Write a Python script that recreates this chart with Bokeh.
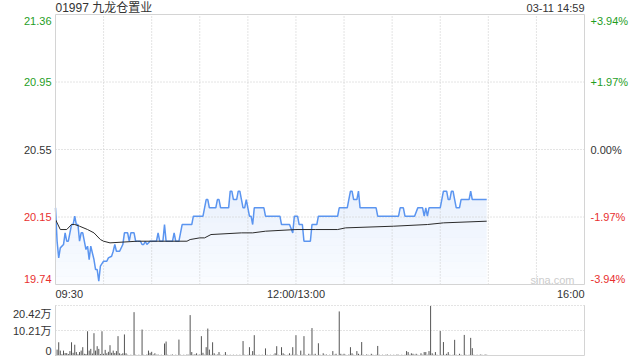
from bokeh.plotting import figure
from bokeh.models import Range1d, Label
from bokeh.embed import file_html
from bokeh.resources import INLINE

# ---------------- data ----------------
title_text = "01997 九龙仓置业"
stamp_text = "03-11 14:59"
pre_close = 20.55
pct_levels = [3.94, 1.97, 0.0, -1.97, -3.94]
price_tick_labels = ["21.36", "20.95", "20.55", "20.15", "19.74"]
pct_tick_labels = ["+3.94%", "+1.97%", "0.00%", "-1.97%", "-3.94%"]
time_tick_minutes = [0, 150, 330]
time_tick_labels = ["09:30", "12:00/13:00", "16:00"]
vol_tick_values = [20.42, 10.21, 0]
vol_tick_labels = ["20.42万", "10.21万", "0"]

price_minutes = [0, 1, 2, 3, 5, 6, 7, 8, 9, 10, 11, 12, 13, 14, 15, 16, 17, 19, 20, 21,
                 22, 24, 25, 26, 27, 28, 30, 32, 33, 35, 36, 37, 38, 40, 42, 43, 45, 46, 47, 49,
                 50, 53, 54, 55, 56, 57, 59, 63, 64, 65, 67, 68, 69, 73, 74, 75, 77, 78, 79, 85,
                 86, 92, 94, 95, 96, 100, 101, 102, 103, 108, 109, 110, 111, 113, 114, 115, 116, 117, 118, 119,
                 120, 121, 122, 123, 124, 130, 131, 140, 141, 146, 148, 149, 151, 152, 154, 155, 159, 160, 163, 164,
                 176, 177, 182, 184, 185, 186, 188, 189, 190, 200, 201, 214, 215, 217, 218, 224, 226, 229, 230, 231,
                 232, 233, 240, 242, 244, 245, 246, 247, 248, 249, 250, 252, 253, 258, 259, 260, 269]
price_values = [20.20, 20.00, 19.90, 19.96, 19.98, 20.05, 20.00, 20.00, 20.05, 20.10, 20.10, 20.15, 20.10, 20.10, 20.00, 20.05, 20.05, 19.95, 19.97, 19.89,
                19.97, 19.89, 19.83, 19.83, 19.76, 19.85, 19.88, 19.88, 19.90, 19.91, 19.94, 19.98, 19.94, 19.94, 19.98, 20.05, 20.05, 20.00, 20.05, 20.05,
                20.00, 20.00, 19.98, 19.98, 20.00, 19.98, 20.00, 20.00, 20.05, 20.00, 20.00, 20.10, 20.00, 20.00, 20.05, 20.00, 20.00, 20.05, 20.10, 20.10,
                20.15, 20.15, 20.25, 20.25, 20.20, 20.20, 20.25, 20.25, 20.20, 20.20, 20.30, 20.30, 20.25, 20.25, 20.30, 20.30, 20.25, 20.20, 20.20, 20.25,
                20.20, 20.15, 20.15, 20.10, 20.20, 20.20, 20.15, 20.15, 20.10, 20.10, 20.05, 20.15, 20.15, 20.10, 20.10, 20.00, 20.00, 20.10, 20.10, 20.15,
                20.15, 20.20, 20.20, 20.30, 20.30, 20.25, 20.25, 20.30, 20.20, 20.20, 20.15, 20.15, 20.20, 20.20, 20.15, 20.15, 20.20, 20.20, 20.15, 20.20,
                20.15, 20.20, 20.20, 20.30, 20.30, 20.25, 20.25, 20.30, 20.30, 20.25, 20.20, 20.20, 20.25, 20.25, 20.30, 20.25, 20.25]

avg_minutes = [0, 3, 7, 10, 12, 15, 20, 24, 28, 30, 34, 51, 72, 82, 84, 90, 93, 97,
               116, 123, 131, 150, 162, 176, 181, 211, 232, 242, 269]
avg_values = [20.13, 20.07, 20.07, 20.10, 20.10, 20.09, 20.07, 20.05, 20.01, 20.00, 19.99, 20.00, 20.00, 20.00, 20.01, 20.02, 20.02, 20.04,
              20.05, 20.05, 20.06, 20.07, 20.07, 20.07, 20.08, 20.09, 20.10, 20.11, 20.12]

# volume per minute (万股), minute 0 .. 269
volumes = [9.7, 2.4, 5.4, 2.0, 0.5, 2.0, 1.0, 1.0, 0.6, 1.8,
           5.4, 1.1, 4.4, 1.4, 0.5, 1.4, 2.0, 3.4, 0.7, 0.6,
           9.9, 2.0, 2.7, 0.8, 9.1, 2.0, 3.8, 2.7, 0.6, 9.9,
           0.7, 2.3, 0.9, 1.5, 4.2, 1.1, 2.0, 1.0, 1.8, 7.9,
           0.9, 0.5, 0.9, 8.6, 0.9, 0.3, 0.2, 0.3, 0.2, 17.7,
           0.3, 0.2, 0.3, 0.2, 10.6, 0.3, 0.2, 0.4, 2.0, 1.1,
           1.5, 0.4, 0.9, 0.3, 0.4, 0.2, 0.3, 0.2, 4.9, 5.7,
           0.3, 0.2, 0.3, 0.4, 0.2, 0.3, 0.2, 6.5, 0.3, 0.2,
           0.3, 0.2, 0.4, 0.3, 16.5, 1.4, 0.3, 0.5, 0.9, 0.3,
           0.4, 7.9, 1.1, 0.3, 3.4, 11.0, 2.4, 0.3, 5.4, 0.9,
           0.3, 0.4, 1.4, 0.3, 0.2, 0.3, 1.4, 0.3, 0.2, 0.3,
           0.2, 0.3, 0.2, 0.3, 0.2, 0.3, 0.2, 5.9, 0.3, 0.2,
           0.3, 3.4, 0.3, 1.8, 8.3, 0.3, 0.2, 0.3, 0.2, 0.3,
           0.2, 2.9, 0.3, 0.2, 0.3, 0.2, 0.3, 0.9, 3.8, 0.3,
           0.2, 3.4, 0.9, 0.4, 0.2, 0.3, 0.9, 0.3, 3.4, 0.3,
           8.3, 0.3, 0.2, 2.0, 0.3, 7.9, 0.3, 0.2, 0.7, 0.3,
           11.2, 0.3, 0.7, 0.2, 5.0, 0.3, 0.2, 0.9, 0.3, 0.4,
           0.2, 0.3, 0.2, 1.8, 0.3, 0.7, 0.2, 18.0, 0.7, 0.3,
           0.7, 0.3, 0.2, 0.4, 3.4, 0.9, 0.3, 0.2, 1.8, 0.7,
           0.3, 5.5, 0.3, 0.2, 0.4, 0.3, 0.2, 0.7, 0.3, 0.2,
           0.3, 3.9, 0.3, 0.2, 0.3, 0.2, 0.3, 0.4, 0.2, 0.3,
           0.2, 0.3, 0.2, 0.4, 0.3, 0.2, 0.3, 0.2, 0.3, 1.8,
           1.4, 0.3, 0.9, 0.7, 0.3, 0.7, 0.3, 0.2, 0.9, 0.3,
           1.4, 1.4, 0.3, 1.8, 20.3, 0.9, 0.3, 1.4, 0.3, 0.2,
           10.0, 0.3, 5.5, 0.3, 0.7, 1.4, 0.3, 0.2, 0.3, 6.4,
           0.3, 0.2, 0.7, 0.3, 0.2, 8.4, 0.3, 0.2, 0.3, 7.2,
           3.0, 0.3, 0.2, 0.3, 0.2, 0.4, 0.3, 0.2, 0.4, 0.3]
vol_minutes = list(range(len(volumes)))

assert len(price_minutes) == len(price_values)
assert len(avg_minutes) == len(avg_values)

# ---------------- layout helpers (pixels of the 640x360 canvas) ----------------
FONT = "Liberation Sans, Noto Sans CJK SC"
GREEN = "#1f9e1f"
RED = "#e8302f"
DARK = "#333333"
GRID = "#c8c8c8"
FRAME = "#d4d4d4"
W, H = 640, 360
L, R = 55, 584              # panel left / right edge (px)
PT, PB = 14, 284            # price panel top / bottom (px)
VT, VB = 305, 355           # volume panel top / bottom (px)
X_MAX = 330                 # trading minutes 09:30-12:00 + 13:00-16:00

p_top = pre_close * (1 + pct_levels[0] / 100)
p_bot = pre_close * (1 + pct_levels[-1] / 100)
px_x = X_MAX / (R - L)
px_y = (p_top - p_bot) / (PB - PT)
vol_max = vol_tick_values[0]
px_v = vol_max / (VB - VT)

x_rng = Range1d(-L * px_x, (W - L) * px_x)
y_rng = Range1d(p_top - (H - PT) * px_y, p_top + PT * px_y)

p = figure(width=W, height=H, x_range=x_rng, y_range=y_rng,
           x_axis_location=None, y_axis_location=None,
           min_border=0, min_border_left=0, min_border_right=0,
           min_border_top=0, min_border_bottom=0,
           output_backend="svg", toolbar_location=None, tools="")
p.grid.visible = False
p.outline_line_color = None
p.background_fill_color = "white"
p.border_fill_color = "white"
p.extra_y_ranges = {"vol": Range1d(-(H - VB) * px_v, vol_max + VT * px_v)}

# ---- price panel ----
p.varea(x=price_minutes, y1=[p_bot] * len(price_minutes), y2=price_values,
        fill_color="#e9f1fd", fill_alpha=1.0)
# white veil bands: fade the area fill towards the bottom of the panel (styling only)
n_bands = 12
band_edges = [p_bot + (20.30 - p_bot) * k / n_bands for k in range(n_bands + 1)]
p.quad(left=[0] * n_bands, right=[X_MAX] * n_bands,
       bottom=band_edges[:-1], top=band_edges[1:],
       fill_color="white", fill_alpha=[0.75 * (1 - k / n_bands) for k in range(n_bands)],
       line_color=None)

grid_x = list(range(30, X_MAX, 30))
p.segment(x0=grid_x, y0=[p_bot] * len(grid_x), x1=grid_x, y1=[p_top] * len(grid_x),
          line_color=GRID, line_dash="1 2", line_width=1)
grid_y = [pre_close * (1 + lv / 100) for lv in pct_levels[1:4]]
p.segment(x0=[0] * 3, y0=grid_y, x1=[X_MAX] * 3, y1=grid_y,
          line_color=GRID, line_dash="1 2", line_width=1)

p.line(price_minutes, price_values, line_color="#5b95f0", line_width=1.5)
p.line(avg_minutes, avg_values, line_color="#2b2b2b", line_width=1)

p.quad(left=[0], right=[X_MAX], bottom=[p_bot], top=[p_top],
       fill_color=None, line_color=FRAME, line_width=1)

p.add_layout(Label(x=(552 - L) * px_x, y=p_bot + 5 * px_y, text="sina.com",
                   text_font=FONT, text_font_size="11px", text_color="#cccccc",
                   text_align="center", text_baseline="middle"))

# title and timestamp
p.add_layout(Label(x=0, y=p_top + 7 * px_y, text=title_text, text_font=FONT,
                   text_font_size="12px", text_color=DARK, text_align="left", text_baseline="middle"))
p.add_layout(Label(x=X_MAX, y=p_top + 7 * px_y, text=stamp_text, text_font=FONT,
                   text_font_size="11px", text_color=DARK, text_align="right", text_baseline="middle"))

# price and percent labels
for i, (lv, lab, plab) in enumerate(zip(pct_levels, price_tick_labels, pct_tick_labels)):
    y = pre_close * (1 + lv / 100)
    if i == 0:
        y -= 6 * px_y
    elif i == len(pct_levels) - 1:
        y += 6 * px_y
    col = GREEN if lv > 0 else (RED if lv < 0 else DARK)
    p.add_layout(Label(x=-4 * px_x, y=y, text=lab, text_font=FONT, text_font_size="11px",
                       text_color=col, text_align="right", text_baseline="middle"))
    p.add_layout(Label(x=X_MAX + 6 * px_x, y=y, text=plab, text_font=FONT, text_font_size="11px",
                       text_color=col, text_align="left", text_baseline="middle"))

# time labels
for m, lab, al in zip(time_tick_minutes, time_tick_labels, ["left", "center", "right"]):
    p.add_layout(Label(x=m, y=p_bot - 9.5 * px_y, text=lab, text_font=FONT, text_font_size="11px",
                       text_color=DARK, text_align=al, text_baseline="middle"))

# ---- volume panel ----
vgrid = vol_tick_values[:2]
p.segment(x0=[0] * 2, y0=vgrid, x1=[X_MAX] * 2, y1=vgrid, y_range_name="vol",
          line_color=GRID, line_dash="1 2", line_width=1)
p.segment(x0=vol_minutes, y0=[0] * len(volumes), x1=vol_minutes, y1=volumes,
          y_range_name="vol", line_color="#555555", line_width=1)
p.quad(left=[0], right=[X_MAX], bottom=[0], top=[vol_max], y_range_name="vol",
       fill_color=None, line_color=FRAME, line_width=1)
p.segment(x0=[0], y0=[vol_max], x1=[X_MAX], y1=[vol_max], y_range_name="vol",
          line_color="white", line_width=1)
p.segment(x0=[0], y0=[vol_max], x1=[X_MAX], y1=[vol_max], y_range_name="vol",
          line_color=GRID, line_dash="1 2", line_width=1)

for val, lab in zip(vol_tick_values, vol_tick_labels):
    y = val
    if val == vol_max:
        y -= 8 * px_v
    elif val == 0:
        y += 5 * px_v
    p.add_layout(Label(x=-4 * px_x, y=y, y_range_name="vol", text=lab, text_font=FONT,
                       text_font_size="11px", text_color=DARK, text_align="right",
                       text_baseline="middle"))

open("out.html", "w").write(file_html(p, INLINE))
